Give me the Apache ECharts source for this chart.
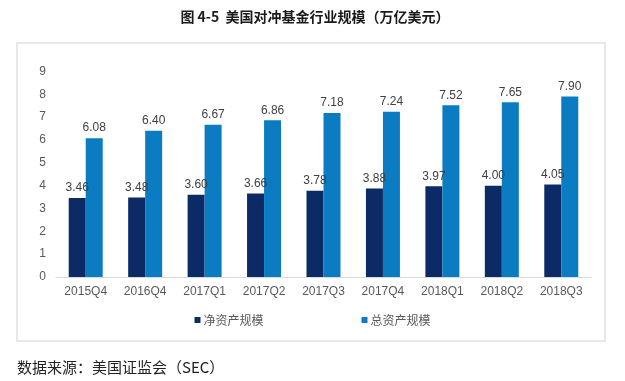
<!DOCTYPE html>
<html><head><meta charset="utf-8">
<script src="https://cdn.jsdelivr.net/npm/echarts@6/dist/echarts.min.js"></script>
<style>html,body{margin:0;padding:0;background:#fff;}#c{width:625px;height:381px;}</style>
</head><body><div id="c"></div>
<script>
const categories = ['2015Q4','2016Q4','2017Q1','2017Q2','2017Q3','2017Q4','2018Q1','2018Q2','2018Q3'];
const netAssets = [3.46,3.48,3.60,3.66,3.78,3.88,3.97,4.00,4.05];
const totalAssets = [6.08,6.40,6.67,6.86,7.18,7.24,7.52,7.65,7.90];
const seriesNames = ['净资产规模','总资产规模'];
const titleText = '图 4-5  美国对冲基金行业规模（万亿美元）';
const sourceText = '数据来源：美国证监会（SEC）';

const chart = echarts.init(document.getElementById('c'), null, {renderer:'canvas'});
const labelStyle = {show:true, position:'top', distance:4, color:'#404040', fontSize:12, fontFamily:'Liberation Sans, Arial', formatter: p => p.value.toFixed(2)};
chart.setOption({
  animation:false,
  backgroundColor:'#fff',
  title:{text:titleText, left:310, textAlign:'center', top:5, textStyle:{fontSize:14, fontWeight:'bold', color:'#1a1a1a', fontFamily:'Noto Sans CJK SC'}},
  graphic:[
    {type:'rect', shape:{x:17, y:43, width:588, height:298}, style:{fill:'none', stroke:'#e8e8e8', lineWidth:2}, z:-1},
    {type:'text', left:17, top:360, style:{text:sourceText, fontSize:15, fill:'#222', fontFamily:'Noto Sans CJK SC'}}
  ],
  legend:{
    data:seriesNames, bottom:50, left:'center', itemWidth:6, itemHeight:6, itemGap:98,
    icon:'rect', textStyle:{fontSize:12, color:'#595959', fontFamily:'Noto Sans CJK SC', padding:[0,0,0,-2]}
  },
  grid:{left:56, right:34, top:71.5, bottom:104},
  xAxis:{type:'category', data:categories,
    axisLine:{lineStyle:{color:'#d9d9d9', width:1}}, axisTick:{show:false},
    axisLabel:{color:'#595959', fontSize:12, margin:9, fontFamily:'Liberation Sans, Arial'}},
  yAxis:{type:'value', min:0, max:9, interval:1,
    splitLine:{show:false}, axisLine:{show:false}, axisTick:{show:false},
    axisLabel:{color:'#595959', fontSize:12, margin:10, fontFamily:'Liberation Sans, Arial'}},
  series:[
    {name:seriesNames[0], type:'bar', data:netAssets, barWidth:17, barGap:'0%', itemStyle:{color:'#0b2a66'}, label:labelStyle},
    {name:seriesNames[1], type:'bar', data:totalAssets, barWidth:17, barGap:'0%', itemStyle:{color:'#0b7cc1'}, label:labelStyle}
  ]
});
</script></body></html>
